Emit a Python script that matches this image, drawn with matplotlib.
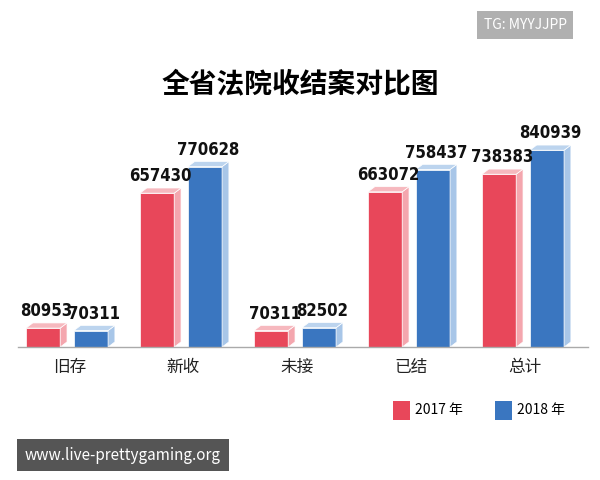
import matplotlib.pyplot as plt
from matplotlib.patches import Polygon

plt.rcParams['font.family'] = ['Noto Sans CJK SC', 'DejaVu Sans']

categories = ['旧存', '新收', '未接', '已结', '总计']
values_2017 = [80953, 657430, 70311, 663072, 738383]
values_2018 = [70311, 770628, 82502, 758437, 840939]

fig = plt.figure(figsize=(6, 4.8), dpi=100)
ax = fig.add_axes([0.03, 0.277, 0.95, 0.473])
ax.set_xlim(-0.45, 4.55)
ax.set_ylim(0, 970000)
ax.axis('off')

w = 0.3
dx, dy = 0.06, 22000


def bar3d(x, h, front, side, top):
    ax.add_patch(Polygon([(x, 0), (x + w, 0), (x + w, h), (x, h)],
                         facecolor=front, edgecolor='white', lw=0.5))
    ax.add_patch(Polygon([(x + w, 0), (x + w + dx, dy), (x + w + dx, h + dy), (x + w, h)],
                         facecolor=side, edgecolor='white', lw=0.5))
    ax.add_patch(Polygon([(x, h), (x + w, h), (x + w + dx, h + dy), (x + dx, h + dy)],
                         facecolor=top, edgecolor='white', lw=0.5))
    ax.text(x + w / 2 + dx / 2, h + dy + 12000, str(h), ha='center', va='bottom',
            fontsize=12, fontweight='bold', family='DejaVu Sans', fontstretch='condensed',
            color='#111111')


for i, (a, b) in enumerate(zip(values_2017, values_2018)):
    bar3d(i - 0.38, a, '#e8475a', '#f4a6ae', '#f6b8be')
    bar3d(i + 0.04, b, '#3a76c0', '#a8c6e8', '#bcd4ee')

ax.plot([-0.45, 4.55], [0, 0], color='#aaaaaa', lw=1, clip_on=False)
for i, c in enumerate(categories):
    ax.text(i, -50000, c, ha='center', va='top', fontsize=12, color='#222222')

fig.text(0.5, 0.825, '全省法院收结案对比图', ha='center', va='center',
         fontsize=20, fontweight='bold')

# legend
fig.patches.append(Polygon([(0.655, 0.125), (0.683, 0.125), (0.683, 0.165), (0.655, 0.165)],
                           closed=True, transform=fig.transFigure, facecolor='#e8475a'))
fig.text(0.692, 0.145, '2017 年', va='center', fontsize=10)
fig.patches.append(Polygon([(0.825, 0.125), (0.853, 0.125), (0.853, 0.165), (0.825, 0.165)],
                           closed=True, transform=fig.transFigure, facecolor='#3a76c0'))
fig.text(0.862, 0.145, '2018 年', va='center', fontsize=10)

# watermarks
fig.text(0.875, 0.948, 'TG: MYYJJPP', ha='center', va='center', fontsize=10, color='white',
         bbox=dict(boxstyle='square,pad=0.5', facecolor='#b0b0b0', edgecolor='none'))
fig.text(0.205, 0.052, 'www.live-prettygaming.org', ha='center', va='center', fontsize=11,
         color='white', bbox=dict(boxstyle='square,pad=0.5', facecolor='#555555', edgecolor='none'))

fig.savefig('out.png', dpi=100)
